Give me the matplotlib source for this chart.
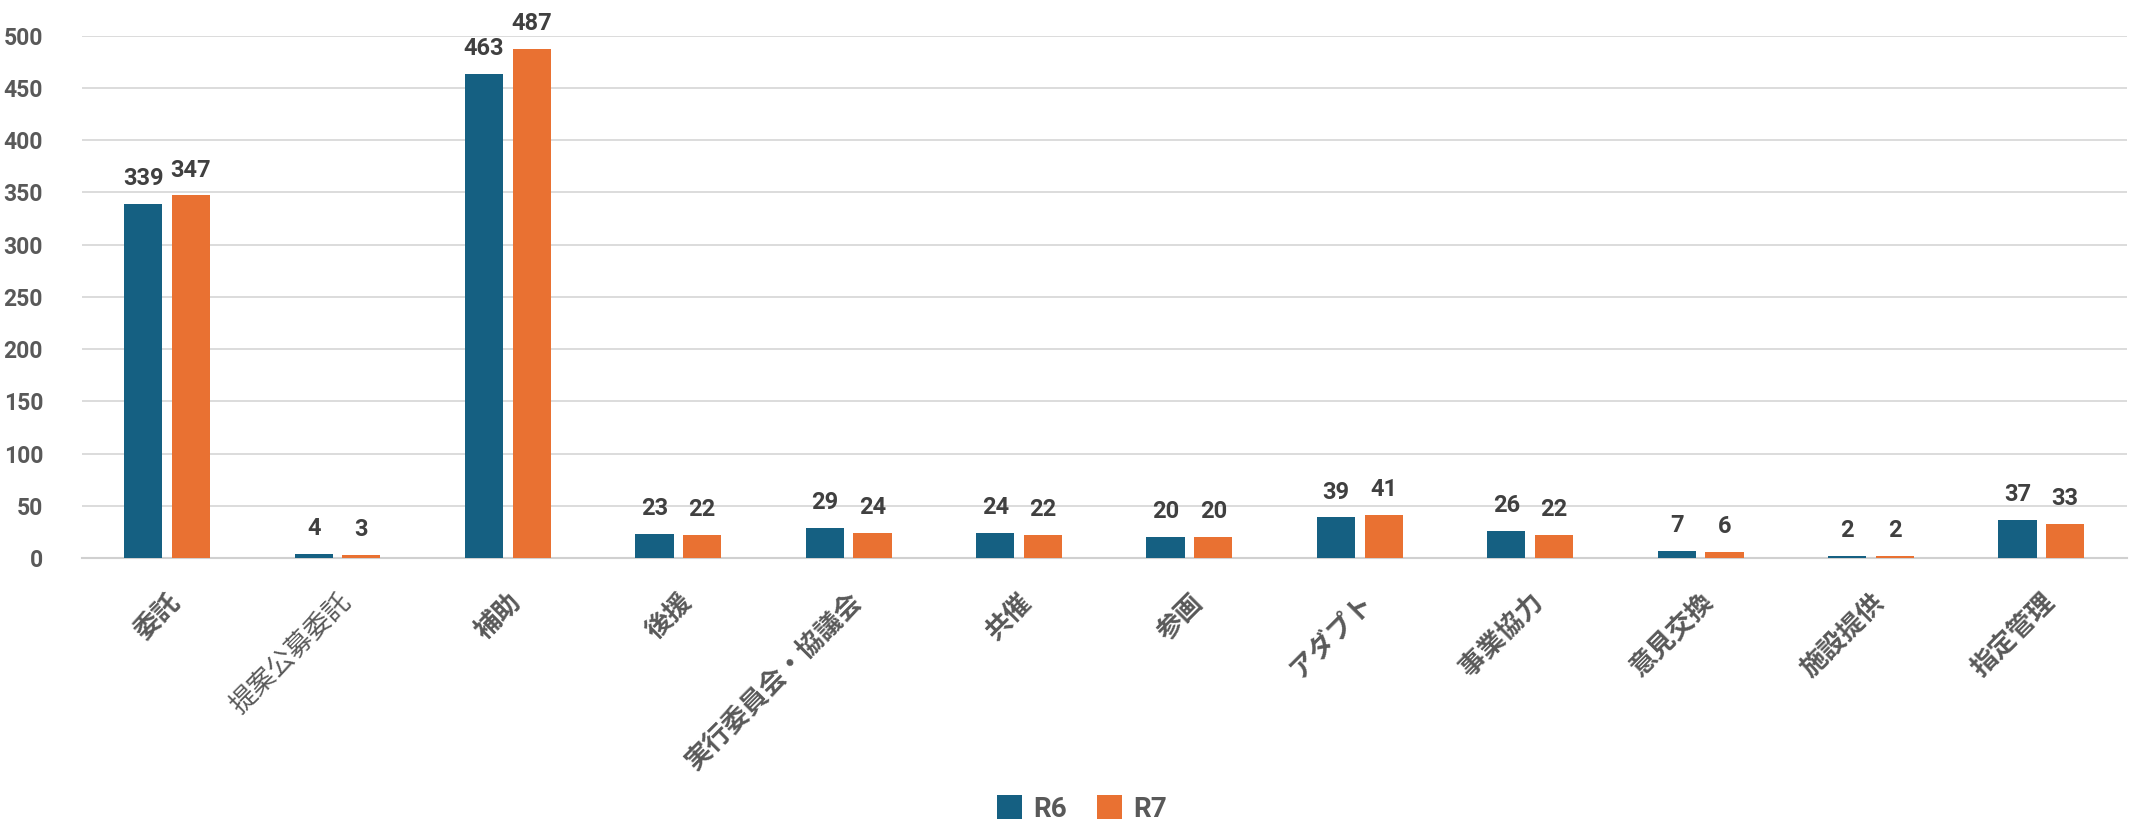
import matplotlib
matplotlib.use("Agg")
import matplotlib.pyplot as plt
import numpy as np
from matplotlib.patches import Patch

categories = ["委託", "提案公募委託", "補助", "後援", "実行委員会・協議会", "共催", "参画",
              "アダプト", "事業協力", "意見交換", "施設提供", "指定管理"]
r6 = [339, 4, 463, 23, 29, 24, 20, 39, 26, 7, 2, 37]
r7 = [347, 3, 487, 22, 24, 22, 20, 41, 22, 6, 2, 33]
series_names = ["R6", "R7"]
colors = ["#156082", "#E97132"]
yticks = [0, 50, 100, 150, 200, 250, 300, 350, 400, 450, 500]

num_font = ["Roboto", "DejaVu Sans"]
cjk_font = ["Noto Sans CJK JP", "DejaVu Sans"]
text_color = "#595959"

fig = plt.figure(figsize=(21.4, 8.27), dpi=100)
ax = fig.add_axes([0.0383, 0.325, 0.9554, 0.632])

x = np.arange(len(categories))
w = 0.224
off = 0.14
ax.bar(x - off, r6, width=w, color=colors[0], zorder=3)
ax.bar(x + off, r7, width=w, color=colors[1], zorder=3)

for xs, vals in ((x - off, r6), (x + off, r7)):
    for xi, v in zip(xs, vals):
        ax.annotate(str(v), (xi, v), xytext=(0, 10), textcoords="offset points",
                    ha="center", va="bottom", fontsize=17, fontweight="bold",
                    color="#404040", family=num_font)

ax.set_xlim(-0.5, len(categories) - 0.5)
ax.set_ylim(0, 500)
ax.set_yticks(yticks)
ax.set_yticklabels([str(t) for t in yticks], fontsize=16.5, fontweight="bold",
                   color=text_color, family=num_font)
ax.set_xticks(x)
ax.set_xticklabels(categories, rotation=45, ha="right", va="top",
                   rotation_mode="anchor", fontsize=19, color=text_color,
                   family=cjk_font)
for i, lab in enumerate(ax.get_xticklabels()):
    lab.set_fontweight("normal" if i == 1 else "bold")
ax.tick_params(axis="both", length=0)
ax.tick_params(axis="y", pad=28)
ax.tick_params(axis="x", pad=22)
ax.grid(axis="y", color="#d9d9d9", linewidth=1.3, zorder=0)
for s in ["top", "right", "left"]:
    ax.spines[s].set_visible(False)
ax.spines["bottom"].set_color("#d0d0d0")
ax.spines["bottom"].set_linewidth(1.5)

handles = [Patch(facecolor=c) for c in colors]
fig.legend(handles, series_names, loc="center", bbox_to_anchor=(1082 / 2140, 1 - 809 / 827),
           ncol=2, frameon=False, handlelength=0.9, handleheight=0.9, handletextpad=0.4,
           columnspacing=1.1, prop={"family": num_font, "size": 20, "weight": "bold"},
           labelcolor=text_color)

fig.savefig("out.png", dpi=100, facecolor="white")
